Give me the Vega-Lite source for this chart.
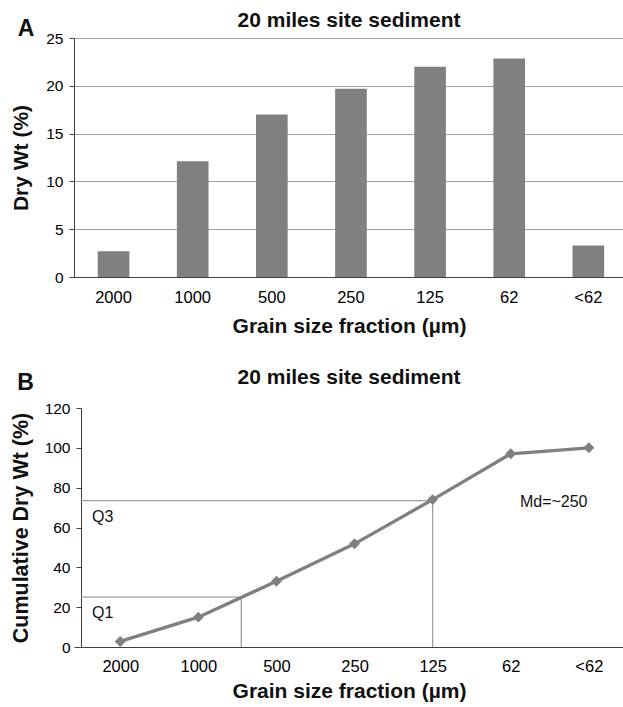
{
  "$schema": "https://vega.github.io/schema/vega-lite/v6.json",
  "padding": {"left": 10, "top": 10, "right": 0, "bottom": 0},
  "background": "white",
  "config": {
    "font": "Liberation Sans",
    "view": {"stroke": null},
    "axis": {"labelFont": "Liberation Sans", "labelColor": "#000", "titleFont": "Liberation Sans", "titleFontWeight": "bold", "titleColor": "#111", "domainColor": "#404040", "tickColor": "#404040", "grid": false},
    "title": {"font": "Liberation Sans", "fontSize": 21, "fontWeight": "bold", "color": "#111"}
  },
  "datasets": {
    "sediment": [
      {"fraction": "2000", "order": 0, "dryWt": 2.7, "cumulative": 2.8},
      {"fraction": "1000", "order": 1, "dryWt": 12.1, "cumulative": 15.0},
      {"fraction": "500", "order": 2, "dryWt": 17.0, "cumulative": 33.0},
      {"fraction": "250", "order": 3, "dryWt": 19.7, "cumulative": 51.8},
      {"fraction": "125", "order": 4, "dryWt": 22.0, "cumulative": 74.0},
      {"fraction": "62", "order": 5, "dryWt": 22.85, "cumulative": 97.0},
      {"fraction": "<62", "order": 6, "dryWt": 3.3, "cumulative": 100.0}
    ],
    "quartiles": [
      {"quartile": "Q1", "order": 1.55, "cumulative": 25},
      {"quartile": "Q3", "order": 4.0, "cumulative": 73.5}
    ],
    "median": [{"label": "Md=~250", "order": 5.55, "cumulative": 73}]
  },
  "columns": 1,
  "align": "none",
  "spacing": 30,
  "concat": [
    {
      "title": {"text": "A", "anchor": "start", "frame": "bounds", "fontSize": 23, "offset": -31, "dx": 7},
      "vconcat": [
        {
          "title": {"text": "20 miles site sediment", "anchor": "middle", "offset": 0},
          "width": 550,
          "height": 239,
          "data": {"name": "sediment"},
          "mark": {"type": "bar", "color": "#808080"},
          "encoding": {
            "x": {
              "field": "fraction", "type": "nominal", "sort": null,
              "scale": {"paddingInner": 0.6, "paddingOuter": 0.275, "align": 0.545},
              "axis": {"title": "Grain size fraction (µm)", "titleFontSize": 21, "labelFontSize": 16.5, "labelAngle": 0, "ticks": false, "labelPadding": 12, "titlePadding": 10}
            },
            "y": {
              "field": "dryWt", "type": "quantitative",
              "scale": {"domain": [0, 25]},
              "axis": {"title": "Dry Wt (%)", "titleFontSize": 21, "labelFontSize": 15.5, "values": [0, 5, 10, 15, 20, 25], "grid": true, "gridColor": "#a0a0a0", "tickSize": 5, "labelPadding": 6, "titlePadding": 14}
            }
          }
        }
      ]
    },
    {
      "title": {"text": "B", "anchor": "start", "frame": "bounds", "fontSize": 23, "offset": -28, "dx": 7},
      "vconcat": [
        {
          "title": {"text": "20 miles site sediment", "anchor": "middle", "offset": 13},
          "width": 550,
          "height": 239,
          "encoding": {
            "x": {
              "field": "order", "type": "quantitative",
              "scale": {"domain": [-0.592, 6.45], "nice": false, "zero": false},
              "axis": {"title": "Grain size fraction (µm)", "titleFontSize": 21, "labelFontSize": 16.5, "values": [0, 1, 2, 3, 4, 5, 6], "labelExpr": "['2000','1000','500','250','125','62','<62'][datum.value]", "ticks": false, "labelPadding": 11, "titlePadding": 6}
            },
            "y": {
              "field": "cumulative", "type": "quantitative",
              "scale": {"domain": [0, 120]},
              "axis": {"title": "Cumulative Dry Wt (%)", "titleFontSize": 21.5, "labelFontSize": 15.5, "values": [0, 20, 40, 60, 80, 100, 120], "tickSize": 5, "labelPadding": 6, "titlePadding": 12, "offset": -7}
            }
          },
          "layer": [
            {
              "data": {"name": "quartiles"},
              "mark": {"type": "rule", "color": "#a0a0a0", "strokeWidth": 1.3},
              "encoding": {
                "x": {"datum": -0.5, "type": "quantitative"},
                "x2": {"field": "order"}
              }
            },
            {
              "data": {"name": "quartiles"},
              "mark": {"type": "rule", "color": "#a0a0a0", "strokeWidth": 1.3},
              "encoding": {
                "y2": {"datum": 0}
              }
            },
            {
              "data": {"name": "sediment"},
              "mark": {"type": "line", "color": "#808080", "strokeWidth": 3.3, "point": {"shape": "diamond", "size": 120, "filled": true, "color": "#808080", "opacity": 1}},
              "encoding": {}
            },
            {
              "data": {"name": "quartiles"},
              "mark": {"type": "text", "fontSize": 16, "align": "left", "dy": 16, "color": "#111"},
              "encoding": {
                "x": {"datum": -0.36, "type": "quantitative"},
                "text": {"field": "quartile"}
              }
            },
            {
              "data": {"name": "median"},
              "mark": {"type": "text", "fontSize": 16, "align": "center", "color": "#111"},
              "encoding": {
                "text": {"field": "label"}
              }
            }
          ]
        }
      ]
    }
  ]
}
